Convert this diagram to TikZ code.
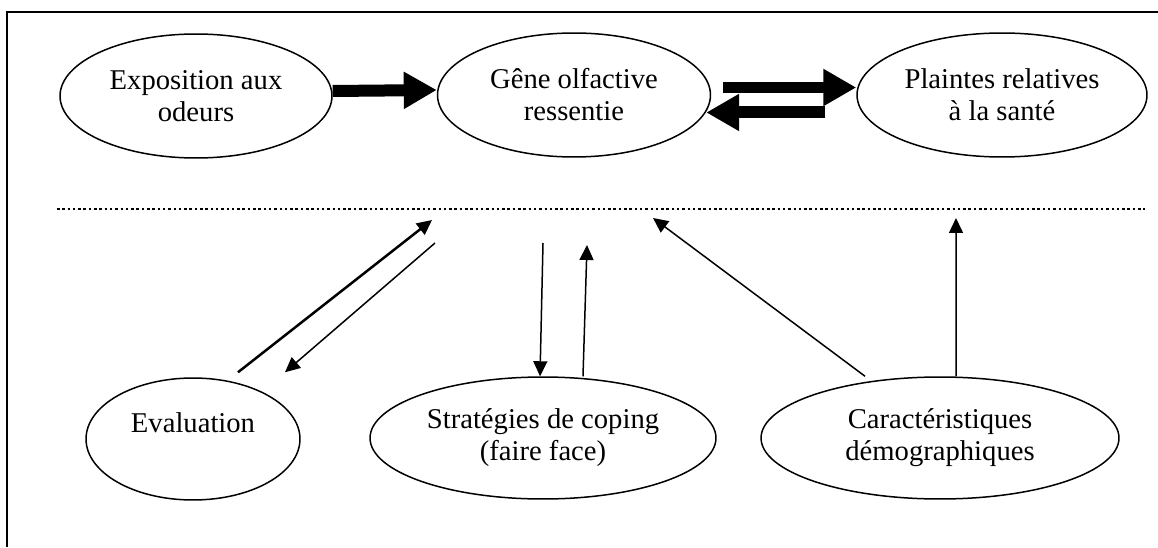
\documentclass[tikz,border=0pt]{standalone}
\usepackage{fontspec}
\setmainfont{Liberation Serif}
\usetikzlibrary{shapes.geometric, arrows.meta}

\begin{document}
\begin{tikzpicture}[x=0.02cm, y=-0.02cm,
    bubble/.style={ellipse, draw, line width=0.03cm, inner sep=0pt, align=center,
      font=\fontsize{16.3}{18.2}\selectfont},
    fat/.style={line width=0.24cm, -{Triangle[length=0.66cm, width=0.7cm]}},
    thin/.style={line width=0.03cm, -{Triangle[length=0.3cm, width=0.28cm]}}]
  \useasboundingbox (0, 0) rectangle (1158, 547);

  % Frame
  \draw [line width=0.04cm] (7, 547) -- (7, 12) -- (1158, 12);

  % Upper row
  \node [bubble, minimum width=5.44cm, minimum height=2.48cm] (expo) at (196, 96) {Exposition aux\\odeurs};
  \node [bubble, minimum width=5.46cm, minimum height=2.48cm] (gene) at (574, 95) {Gêne olfactive\\ressentie};
  \node [bubble, minimum width=5.8cm, minimum height=2.48cm] (plaintes) at (1002, 95) {Plaintes relatives\\à la santé};

  % Lower row
  \node [bubble, minimum width=4.28cm, minimum height=2.44cm] (eval) at (193, 439) {Evaluation\\~};
  \node [bubble, minimum width=6.92cm, minimum height=2.44cm] (strat) at (543, 438) {Stratégies de coping\\(faire face)};
  \node [bubble, minimum width=7.16cm, minimum height=2.44cm] (carac) at (940, 438) {Caractéristiques\\démographiques};

  % Separation
  \draw [line width=0.05cm, dash pattern=on 0.05cm off 0.056cm] (57, 209) -- (1145, 209);

  % Thick arrows
  \draw [fat] ([yshift=0.1cm]expo.east) -- ([yshift=0.1cm]gene.west);
  \draw [fat] ([shift={(0.24cm, 0.15cm)}]gene.east) -- ([yshift=0.15cm]plaintes.west);
  \draw [fat] ([shift={(-0.62cm, -0.35cm)}]plaintes.west) -- ([shift={(-0.1cm, -0.35cm)}]gene.east);

  % Free ends below the line
  \coordinate (ua) at (432, 220);
  \coordinate (ub) at (435, 243);
  \coordinate (uc) at (543, 243);
  \coordinate (ud) at (587, 245);
  \coordinate (ue) at (653, 218);
  \coordinate (uf) at (956, 218);

  % Thin arrows
  \draw [thin, line width=0.05cm] ([shift={(0.9cm, 0.1cm)}]eval.north) -- (ua);
  \draw [thin] (ub) -- ([shift={(1.84cm, 0.1cm)}]eval.north);
  \draw [thin] (uc) -- ([xshift=-0.06cm]strat.north);
  \draw [thin] ([xshift=0.8cm]strat.north) -- (ud);
  \draw [thin] ([xshift=-1.5cm]carac.north) -- (ue);
  \draw [thin] ([xshift=0.32cm]carac.north) -- (uf);
\end{tikzpicture}
\end{document}
